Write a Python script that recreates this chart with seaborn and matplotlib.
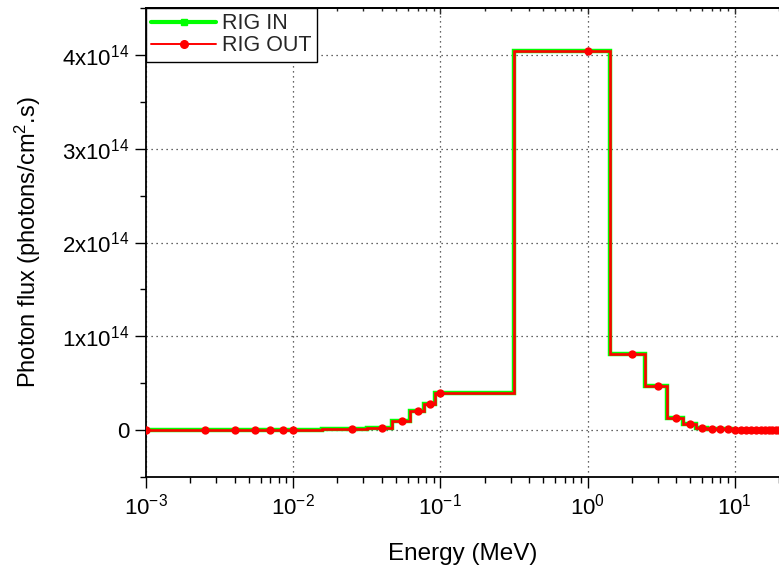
import numpy as np
import pandas as pd
import matplotlib
matplotlib.use("Agg")
import matplotlib.pyplot as plt
from matplotlib.lines import Line2D
from matplotlib.ticker import LogLocator, NullFormatter, MultipleLocator
import seaborn as sns

# ---- data ----
energy = [0.001, 0.0025, 0.004, 0.0055, 0.007, 0.0085, 0.01, 0.025, 0.04, 0.055,
          0.07, 0.085, 0.1, 1.0, 2, 3, 4, 5, 6, 7, 8, 9,
          10, 11, 12, 13, 14, 15, 16, 17, 18, 19, 20]
flux_in = [0.0, 0.0, 0.0, 0.0, 0.0, 0.0, 0.0, 0.01, 0.025, 0.10,
           0.20, 0.28, 0.40, 4.04, 0.81, 0.47, 0.13, 0.06, 0.025, 0.012, 0.008, 0.01,
           0.0, 0.0, 0.0, 0.0, 0.0, 0.0, 0.0, 0.0, 0.0, 0.0, 0.0]
flux_out = [0.0, 0.0, 0.0, 0.0, 0.0, 0.0, 0.0, 0.01, 0.025, 0.10,
            0.20, 0.28, 0.40, 4.04, 0.81, 0.47, 0.13, 0.06, 0.025, 0.012, 0.008, 0.01,
            0.0, 0.0, 0.0, 0.0, 0.0, 0.0, 0.0, 0.0, 0.0, 0.0, 0.0]
scale = 1e14
series_names = ["RIG IN", "RIG OUT"]
y_major = [0, 1, 2, 3, 4]
y_labels = ["0", r"$\mathregular{1x10^{14}}$", r"$\mathregular{2x10^{14}}$",
            r"$\mathregular{3x10^{14}}$", r"$\mathregular{4x10^{14}}$"]
x_major = [1e-3, 1e-2, 1e-1, 1e0, 1e1]
x_labels = [r"$\mathregular{10^{-3}}$", r"$\mathregular{10^{-2}}$", r"$\mathregular{10^{-1}}$",
            r"$\mathregular{10^{0}}$", r"$\mathregular{10^{1}}$"]


def step_center_log(x, y):
    """Step path with edges at geometric midpoints (centre steps on a log axis)."""
    x = np.asarray(x, float)
    y = np.asarray(y, float)
    mids = np.sqrt(x[:-1] * x[1:])
    left = np.concatenate([[x[0]], mids])
    right = np.concatenate([mids, [x[-1]]])
    xs = np.column_stack([left, right]).ravel()
    ys = np.repeat(y, 2)
    return xs, ys


sns.set_theme(style="white")
plt.rcParams["font.family"] = ["Liberation Sans", "DejaVu Sans"]
plt.rcParams["mathtext.fontset"] = "custom"
plt.rcParams["mathtext.rm"] = "Liberation Sans"
plt.rcParams["mathtext.it"] = "Liberation Sans:italic"
plt.rcParams["mathtext.bf"] = "Liberation Sans:bold"

fig = plt.figure(figsize=(7.79, 5.68), dpi=100)
fig.patch.set_facecolor("white")
ax = fig.add_axes([146 / 779, 1 - 477 / 568, 1 - 146 / 779, (477 - 8) / 568])
ax.set_facecolor("white")

e = np.asarray(energy)
fin = np.asarray(flux_in) * scale
fout = np.asarray(flux_out) * scale

xs_in, ys_in = step_center_log(e, fin)
xs_out, ys_out = step_center_log(e, fout)
df_in = pd.DataFrame({"x": xs_in, "y": ys_in})
df_out = pd.DataFrame({"x": xs_out, "y": ys_out})

green = "#00ff00"
red = "#ff0000"

sns.lineplot(data=df_in, x="x", y="y", sort=False, estimator=None, color=green,
             lw=3.2, ax=ax, zorder=3, solid_joinstyle="miter")
sns.scatterplot(x=e, y=fin, marker="s", s=8, color=green, edgecolor=green, ax=ax, zorder=4)
sns.lineplot(data=df_out, x="x", y="y", sort=False, estimator=None, color=red,
             lw=1.9, ax=ax, zorder=5, solid_joinstyle="miter")
sns.scatterplot(x=e, y=fout, marker="o", s=36, color=red, edgecolor=red, linewidth=0, ax=ax, zorder=6)

ax.set_xscale("log")
ax.set_xlim(1e-3, 20)
ax.set_ylim(-0.5 * scale, 4.5 * scale)

ax.set_xticks(x_major, x_labels)
ax.xaxis.set_minor_locator(LogLocator(base=10, subs=np.arange(2, 10)))
ax.xaxis.set_minor_formatter(NullFormatter())
ax.set_yticks([v * scale for v in y_major], y_labels)
ax.yaxis.set_minor_locator(MultipleLocator(0.5 * scale))

ax.tick_params(axis="both", which="major", direction="out", length=8, width=1.0,
               color="black", labelsize=16, labelcolor="black", pad=4)
ax.tick_params(axis="both", which="minor", direction="out", length=4.5, width=1.0,
               color="black")
ax.tick_params(axis="x", which="both", bottom=True, top=False)
ax.tick_params(axis="y", which="both", left=True, right=False)

# top axis ticks (inside)
sec = ax.secondary_xaxis("top")
sec.set_xscale("log")
sec.set_xticks(x_major)
sec.xaxis.set_minor_locator(LogLocator(base=10, subs=np.arange(2, 10)))
sec.tick_params(which="major", direction="in", length=4, width=1.0, labeltop=False)
sec.tick_params(which="minor", direction="in", length=2.5, width=1.0)
sec.xaxis.set_major_formatter(NullFormatter())
sec.xaxis.set_minor_formatter(NullFormatter())
sec.spines["top"].set_linewidth(1.3)
sec.spines["top"].set_color("black")

for side in ["left", "bottom", "top"]:
    ax.spines[side].set_visible(True)
    ax.spines[side].set_color("black")
    ax.spines[side].set_linewidth(1.3)
ax.spines["right"].set_visible(False)

ax.grid(True, which="major", color="#333333", linestyle=(0, (1, 3)), linewidth=0.9)
ax.set_axisbelow(True)

ax.set_xlabel("Energy (MeV)", fontsize=17.5, labelpad=17, color="black")
ax.set_ylabel(r"Photon flux (photons/cm$\mathregular{^2}$.s)", fontsize=17, labelpad=14,
              color="black")

handles = [
    Line2D([], [], color=green, lw=3.0, marker="s", markersize=4,
           markerfacecolor=green, markeredgecolor=green),
    Line2D([], [], color=red, lw=1.4, marker="o", markersize=5.5,
           markerfacecolor=red, markeredgecolor=red),
]
leg = ax.legend(handles, series_names, loc="upper left", bbox_to_anchor=(0.0, 1.0),
                borderaxespad=0.0, fontsize=15.5, frameon=True, fancybox=False,
                handlelength=3.0, handletextpad=0.3, borderpad=0.25, labelspacing=0.05)
leg.get_frame().set_edgecolor("black")
leg.get_frame().set_linewidth(1.0)
leg.get_frame().set_alpha(1.0)
leg.set_zorder(10)

fig.savefig("out.png", dpi=100, facecolor="white")
